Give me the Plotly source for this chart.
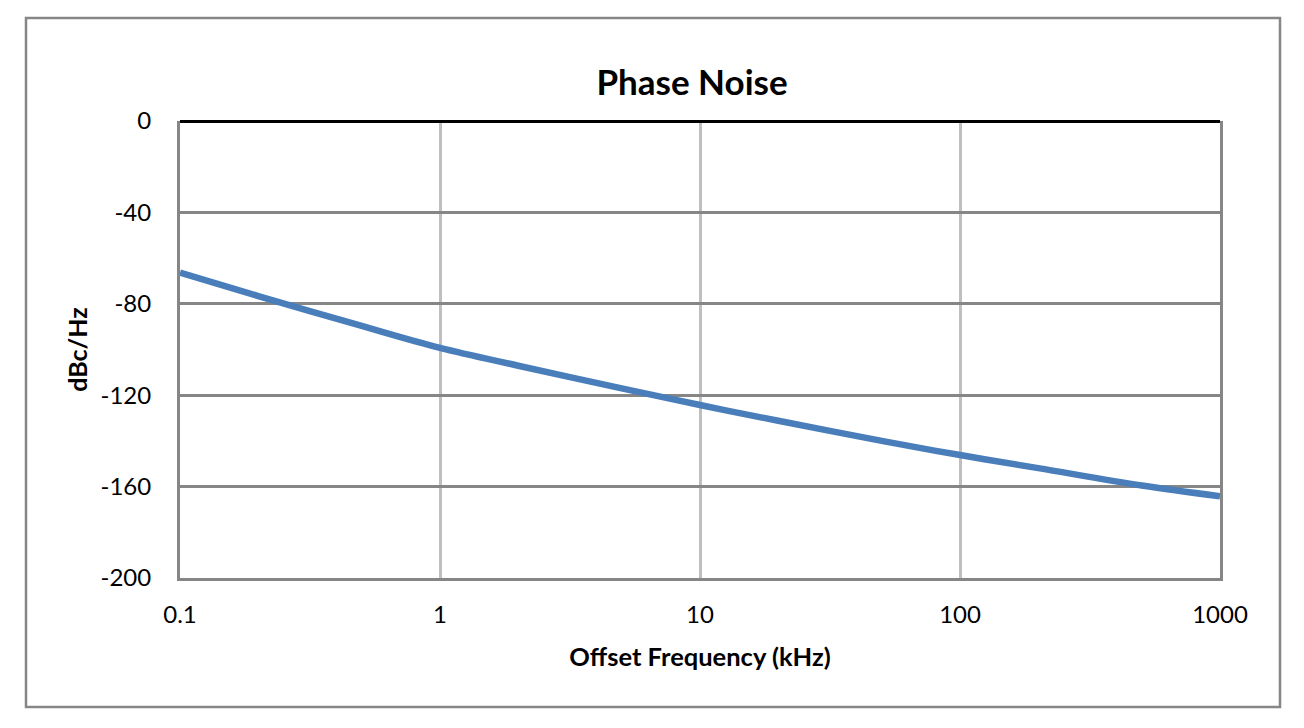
import plotly.graph_objects as go

# Phase noise curve
offset_khz = [0.1, 0.2, 0.5, 1, 2, 5, 10, 20, 50, 100, 200, 500, 1000]
noise_dbc = [-66.4, -76.6, -89.7, -99.3, -107.1, -117.0, -124.3,
             -131.2, -140.0, -146.2, -151.9, -159.5, -164.2]

x_ticks = [0.1, 1, 10, 100, 1000]
x_labels = ["0.1", "1", "10", "100", "1000"]
y_ticks = [0, -40, -80, -120, -160, -200]
y_labels = ["0", "-40", "-80", "-120", "-160", "-200"]

# page body has an 8px margin, so everything is placed 8px in
PAD = 8
W, H = 1304 - 2 * PAD, 728 - 2 * PAD
L, R, T, B = 180, 1220, 121, 578  # plot area on screen

fig = go.Figure()
fig.add_trace(go.Scatter(
    x=offset_khz, y=noise_dbc,
    mode="lines",
    line=dict(color="#4a7ebb", width=6.5, shape="spline"),
    hoverinfo="x+y",
))

# outer chart border
fig.add_shape(
    type="rect", xref="paper", yref="paper",
    x0=(26 - L) / (R - L), x1=(1280 - L) / (R - L),
    y0=(B - 707) / (B - T), y1=(B - 18) / (B - T),
    line=dict(color="#868686", width=2.5),
)

fig.update_layout(
    width=W, height=H,
    margin=dict(l=L - PAD, r=W - (R - PAD), t=T - PAD, b=H - (B - PAD)),
    paper_bgcolor="white",
    plot_bgcolor="white",
    showlegend=False,
    font=dict(family="Lato", size=24, color="black"),
    title=dict(
        text="<b>Phase Noise</b>",
        font=dict(family="Lato", size=35, color="black"),
        x=(692 - L) / (R - L), xref="paper", xanchor="center",
        y=1 - (83 - PAD) / H, yref="container", yanchor="middle",
    ),
)

fig.update_xaxes(
    type="log", range=[-1, 3],
    tickvals=x_ticks, ticktext=x_labels,
    showgrid=True, gridcolor="#bfbfbf", gridwidth=3,
    showline=True, linecolor="#868686", linewidth=3,
    ticks="", ticklabelstandoff=13,
    zeroline=False,
    title=dict(text="<b>Offset Frequency (kHz)</b>", standoff=22,
               font=dict(size=25.5)),
)

fig.update_yaxes(
    range=[-200, 0], tickvals=y_ticks, ticktext=y_labels,
    showgrid=True, gridcolor="#868686", gridwidth=2.5,
    showline=True, linecolor="#868686", linewidth=3, mirror=True,
    zeroline=True, zerolinecolor="black", zerolinewidth=3,
    ticks="", ticklabelstandoff=21,
    title=dict(text="<b>dBc/Hz</b>", standoff=6, font=dict(size=25)),
)

fig.write_html("out.html")
